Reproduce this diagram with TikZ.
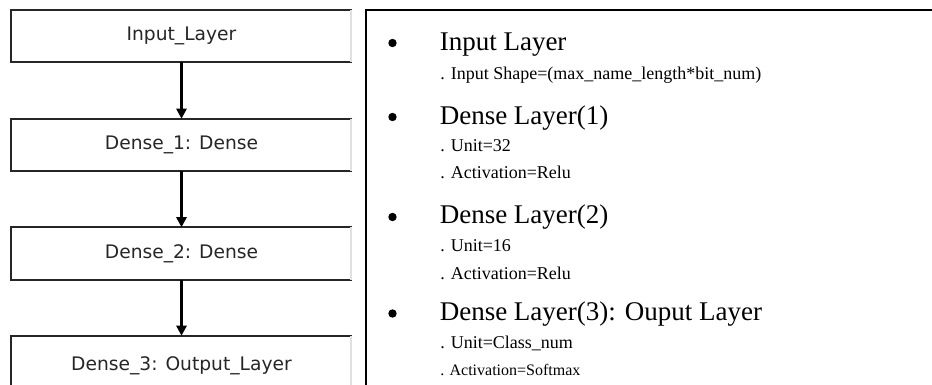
\documentclass[tikz,border=0pt]{standalone}
\usepackage{fontspec}
\setmainfont{Liberation Serif}
\newfontfamily\boxfont{DejaVu Sans}
\usetikzlibrary{arrows.meta}

\tikzset{
  layerbox/.style={minimum width=255.75pt, minimum height=39pt, inner sep=0pt,
    fill=white, font=\boxfont\fontsize{14}{16}\selectfont, text=black!85},
  boxedge/.style={draw=black!85, line width=1.5pt},
  boxside/.style={draw=black!12, line width=1.5pt},
  flow/.style={line width=2.2pt, -{Triangle[width=7.5pt,length=7.5pt]}},
  bulletdot/.style={circle, fill=black, inner sep=0pt, minimum size=6.3pt},
  mainitem/.style={anchor=base west, inner sep=0pt, font=\fontsize{20.25}{24}\selectfont},
  subitem/.style={anchor=base west, inner sep=0pt, font=\fontsize{13.5}{16}\selectfont},
  smallitem/.style={anchor=base west, inner sep=0pt, font=\fontsize{12}{14}\selectfont},
  frame/.style={draw=black, line width=1.1pt}
}

\begin{document}
\begin{tikzpicture}[x=0.75pt, y=-0.75pt]
  \useasboundingbox (0,0) rectangle (932,385);
  \clip (0,0) rectangle (932,385);

  % layer stack
  \node[layerbox] (in) at (181.5,36) {Input\_Layer};
  \node[layerbox] (d1) at (181.5,145) {Dense\_1: Dense};
  \node[layerbox] (d2) at (181.5,253.5) {Dense\_2: Dense};
  \node[layerbox, minimum height=45pt] (d3) at (181.5,366) {Dense\_3: Output\_Layer};

  \foreach \b in {in,d1,d2,d3} {
    \draw[boxedge] (\b.north east) -- (\b.north west) -- (\b.south west) -- (\b.south east);
    \draw[boxside] ([xshift=-0.75pt]\b.north east) -- ([xshift=-0.75pt]\b.south east);
  }

  \draw[flow] (in.south) -- (d1.north);
  \draw[flow] (d1.south) -- (d2.north);
  \draw[flow] (d2.south) -- (d3.north);

  % description panel
  \draw[frame] (366,385) -- (366,10) -- (932,10);

  \node[bulletdot] (b1) at (392.5,43) {};
  \node[mainitem] (t1) at (439.5,50.7) {Input Layer};
  \node[subitem] (s11) at (440,79.3) {. Input Shape=(max\_name\_length*bit\_num)};

  \node[bulletdot] (b2) at (392.5,117) {};
  \node[mainitem] (t2) at (439.5,124) {Dense Layer(1)};
  \node[subitem] (s21) at (440,151.7) {. Unit=32};
  \node[subitem] (s22) at (440,178.3) {. Activation=Relu};

  \node[bulletdot] (b3) at (392.5,217) {};
  \node[mainitem] (t3) at (439.5,223.3) {Dense Layer(2)};
  \node[subitem] (s31) at (440,251.7) {. Unit=16};
  \node[subitem] (s32) at (440,279) {. Activation=Relu};

  \node[bulletdot] (b4) at (392.5,313.5) {};
  \node[mainitem] (t4) at (439.5,320) {Dense Layer(3): Ouput Layer};
  \node[subitem] (s41) at (440,348.3) {. Unit=Class\_num};
  \node[smallitem] (s42) at (440,375) {. Activation=Softmax};
\end{tikzpicture}
\end{document}
